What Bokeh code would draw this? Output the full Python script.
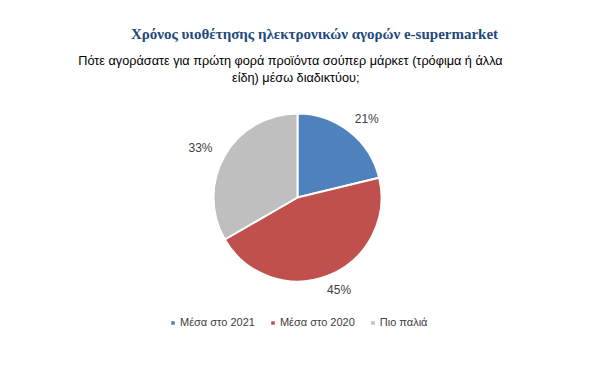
import numpy as np
from bokeh.plotting import figure
from bokeh.models import Range1d, Label, Legend, LegendItem, ColumnDataSource
from bokeh.core.properties import value
from bokeh.embed import file_html
from bokeh.resources import INLINE

# Data
categories = ["Μέσα στο 2021", "Μέσα στο 2020", "Πιο παλιά"]
values = [21, 45, 33]
colors = ["#4F81BD", "#C0504D", "#BFBFBF"]
title_text = "Χρόνος υιοθέτησης ηλεκτρονικών αγορών e-supermarket"
subtitle_lines = ["Πότε αγοράσατε για πρώτη  φορά προϊόντα  σούπερ  μάρκετ (τρόφιμα  ή άλλα",
                  "είδη) μέσω  διαδικτύου;"]

W, H = 584, 353
p = figure(width=W, height=H, output_backend="svg", toolbar_location=None,
           x_range=Range1d(0, W), y_range=Range1d(0, H), min_border=0)
p.axis.visible = False
p.grid.visible = False
p.outline_line_color = None
p.background_fill_color = "white"

cx, cy, r = 297, H - 197, 84
vals = np.array(values, dtype=float)
frac = vals / vals.sum()
cum = np.concatenate([[0], np.cumsum(frac)])
start = np.pi / 2 - cum[:-1] * 2 * np.pi
end = np.pi / 2 - cum[1:] * 2 * np.pi
mid = (start + end) / 2

items = []
for i, cat in enumerate(categories):
    src = ColumnDataSource(dict(x=[cx], y=[cy], s=[start[i]], e=[end[i]]))
    rend = p.wedge(x="x", y="y", radius=r, start_angle="s", end_angle="e",
                   direction="clock", fill_color=colors[i], line_color="white",
                   line_width=2, source=src)
    items.append(LegendItem(label=cat, renderers=[rend]))

# outside-end labels: offset from the rim plus half the text width horizontally
lr, half_w = 100, 12
lab_src = ColumnDataSource(dict(x=cx + (lr + half_w) * np.cos(mid),
                                y=cy + lr * np.sin(mid),
                                t=[f"{v}%" for v in values]))
p.text(x="x", y="y", text="t", source=lab_src, text_align="center",
       text_baseline="middle", text_font=value("Liberation Sans"),
       text_font_size="12px", text_color="#404040")

p.add_layout(Label(x=314, y=H - 33, x_units="screen", y_units="screen",
                   text=title_text, text_align="center", text_baseline="middle",
                   text_font="Liberation Serif", text_font_style="bold",
                   text_font_size="15px", text_color="#1F497D"))
sub_y = [60, 77]
for k, line in enumerate(subtitle_lines):
    p.add_layout(Label(x=297, y=H - sub_y[k], x_units="screen", y_units="screen",
                       text=line, text_align="center", text_baseline="middle",
                       text_font="Liberation Sans", text_font_size="12.7px",
                       text_color="#000000"))

legend = Legend(items=items, orientation="horizontal", location=(169, 24),
                glyph_width=7, glyph_height=7, label_standoff=4, spacing=14,
                padding=0, margin=0, border_line_color=None,
                background_fill_alpha=0, label_text_font="Liberation Sans",
                label_text_font_size="11px", label_text_color="#404040",
                label_height=14)
p.add_layout(legend, "center")

open("out.html", "w").write(file_html(p, INLINE))
